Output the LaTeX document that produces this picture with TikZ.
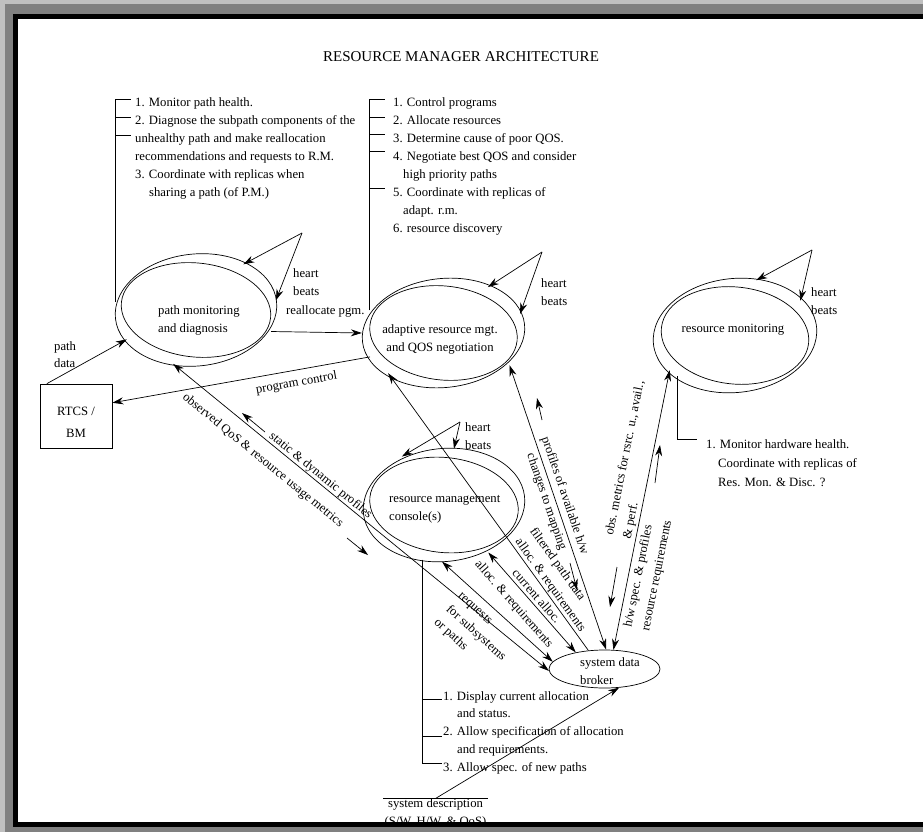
\documentclass[tikz,border=0pt]{standalone}
\usepackage{fontspec}
\setmainfont{Liberation Serif}
\usetikzlibrary{shapes.geometric,arrows.meta}
\definecolor{framelight}{RGB}{192,192,192}
\definecolor{framegray}{RGB}{128,128,128}
\begin{document}
\begin{tikzpicture}[x=1pt,y=-1pt,
  >={Stealth[length=11pt,width=7pt]},
  conn/.style={line width=0.7pt},
  txt/.style={font=\fontsize{12.7}{18}\selectfont, inner sep=0pt},
  blk/.style={txt, align=left},
  lab/.style={txt, sloped, inner xsep=0pt},
  bub/.style={ellipse, inner sep=0pt},
  ring/.style={line width=0.7pt}]
\useasboundingbox (0,0) rectangle (923,832);
% frame
\fill[framelight] (0,0) rectangle (923,832);
\fill[framegray] (5,4) rectangle (923,832);
\fill[black] (13,14) rectangle (923,827);
\fill[white] (18,19) rectangle (923,822);

% title
\node[font=\fontsize{15}{18}\selectfont, inner sep=0pt] (title) at (461,57) {RESOURCE MANAGER ARCHITECTURE};

% ellipses
\node[bub, minimum width=162, minimum height=112] (pmd) at (196,310) {};
\draw[ring, rotate around={6:(pmd.center)}] (pmd.center) ellipse [x radius=81pt, y radius=56pt];
\draw[ring, rotate around={-6:(pmd.center)}] (pmd.center) ellipse [x radius=75pt, y radius=47pt];
\node[blk, anchor=west] (pmdt) at (158,320) {path monitoring\\and diagnosis};

\node[bub, minimum width=163, minimum height=109] (arm) at (443.5,333) {};
\draw[ring, rotate around={6:(arm.center)}] (arm.center) ellipse [x radius=81.5pt, y radius=54.5pt];
\draw[ring, rotate around={-6:(arm.center)}] (arm.center) ellipse [x radius=74pt, y radius=47pt];
\node[txt, align=center] (armt) at (440,339) {adaptive resource mgt.\\and QOS negotiation};

\node[bub, minimum width=164, minimum height=114] (rm) at (735,335.5) {};
\draw[ring, rotate around={6:(rm.center)}] (rm.center) ellipse [x radius=82pt, y radius=57pt];
\draw[ring, rotate around={-6:(rm.center)}] (rm.center) ellipse [x radius=74pt, y radius=48.5pt];
\node[txt] (rmt) at (733,330) {resource monitoring};

\node[bub, minimum width=162, minimum height=113] (rmc) at (444,505) {};
\draw[ring, rotate around={6:(rmc.center)}] (rmc.center) ellipse [x radius=81pt, y radius=56.5pt];
\draw[ring, rotate around={-6:(rmc.center)}] (rmc.center) ellipse [x radius=74.5pt, y radius=47.5pt];
\node[blk, anchor=west] (rmct) at (389,509) {resource management\\console(s)};

\node[bub, draw, conn, minimum width=111, minimum height=38] (broker) at (604.5,669) {};
\node[blk, anchor=west] (brokert) at (580,671) {system data\\broker};

% RTCS box
\node[draw, conn, minimum width=72, minimum height=64, inner sep=0pt] (rtcs) at (76,416) {};
\node[txt, align=center] (rtcst) at (76,422) {RTCS /\\[4pt]BM};

% system description
\node[txt, align=center, anchor=north, inner xsep=1pt] (sysdesc) at (435.5,798.5) {system description\\(S/W, H/W, \& QoS)};
\draw[conn] (sysdesc.north west) -- (sysdesc.north east);

% text blocks
\node[blk, anchor=north west] (pmdl) at (135,97.5) {1. Monitor path health.\\2. Diagnose the subpath components of the\\unhealthy path and make reallocation\\recommendations and requests to R.M.\\3. Coordinate with replicas when\\\hspace*{14pt}sharing a path (of P.M.)};
\coordinate (pk1) at (0,99);
\coordinate (pk2) at (0,117);
\coordinate (pk3) at (0,135);
\draw[conn] (pmd.174) -- (pmd.174 |- pk1) -- ++(15,0);
\draw[conn] (pmd.174 |- pk2) -- ++(15,0);
\draw[conn] (pmd.174 |- pk3) -- ++(15,0);

\node[blk, anchor=north west] (arml) at (393,97.5) {1. Control programs\\2. Allocate resources\\3. Determine cause of poor QOS.\\4. Negotiate best QOS and consider\\\hspace*{10pt}high priority paths\\5. Coordinate with replicas of\\\hspace*{10pt}adapt. r.m.\\6. resource discovery};
\coordinate (ak1) at (0,99);
\coordinate (ak2) at (0,117);
\coordinate (ak3) at (0,134);
\coordinate (ak4) at (0,151);
\coordinate (ak5) at (0,188);
\draw[conn] (arm.163.5) -- (arm.163.5 |- ak1) -- ++(16,0);
\draw[conn] (arm.163.5 |- ak2) -- ++(16,0);
\draw[conn] (arm.163.5 |- ak3) -- ++(16,0);
\draw[conn] (arm.163.5 |- ak4) -- ++(16,0);
\draw[conn] (arm.163.5 |- ak5) -- ++(16,0);

\node[blk, font=\fontsize{12.7}{19}\selectfont, anchor=north west] (rml) at (706,439) {1. Monitor hardware health.\\\hspace*{12pt}Coordinate with replicas of\\\hspace*{12pt}Res. Mon. \& Disc. ?};
\coordinate (rk) at (697,439);
\draw[conn] (rm.215) |- (rk);

\node[blk, font=\fontsize{12.7}{17.75}\selectfont, anchor=north west] (rmcl) at (443,691) {1. Display current allocation\\\hspace*{14pt}and status.\\2. Allow specification of allocation\\\hspace*{14pt}and requirements.\\3. Allow spec. of new paths};
\coordinate (ck1) at (0,699);
\coordinate (ck2) at (0,736);
\coordinate (ck3) at (0,763);
\draw[conn] (rmc.248) -- (rmc.248 |- ck3) -- ++(20,0);
\draw[conn] (rmc.248 |- ck1) -- ++(20,0);
\draw[conn] (rmc.248 |- ck2) -- ++(20,0);

% heart beats
\coordinate (hbp) at (302,233);
\draw[conn,->] (hbp) -- (pmd.44);
\draw[conn,->] (hbp) -- (pmd.7);
\node[blk, anchor=north west] (hbpt) at (293,268) {heart\\beats};
\node[txt, anchor=west] (realt) at (286,311) {reallocate pgm.};

\coordinate (hba) at (542,252);
\draw[conn,->] (hba) -- (arm.46.6);
\draw[conn,->] (hba) -- (arm.14);
\node[blk, anchor=north west] (hbat) at (541,278) {heart\\beats};

\coordinate (hbr) at (812,250);
\draw[conn,->] (hbr) -- (rm.69.6);
\draw[conn,->] (hbr) -- (rm.28);
\node[blk, anchor=north west] (hbrt) at (811,287) {heart\\beats};

\coordinate (hbc) at (460,422);
\draw[conn,->] (hbc) -- (rmc.131.8);
\draw[conn,->] (hbc) -- (rmc.80.9);
\node[blk, anchor=north west] (hbct) at (465,422) {heart\\beats};

% main connectors
\draw[conn,->] (rtcs.132) -- (pmd.203);
\node[blk, font=\fontsize{12.7}{17}\selectfont, anchor=north west] (pdt) at (54,341) {path\\data};
\draw[conn,->] (pmd.-16) -- (arm.west);
\draw[conn,->] (arm.198) -- node[lab, below, pos=0.294, inner ysep=7pt] (pct) {program control} (rtcs.20);

\draw[conn,<->] (pmd.247) --
  node[lab, above, pos=0.381, inner ysep=0.5pt] (sdpt) {static \& dynamic profiles}
  node[lab, below, pos=0.269, inner ysep=12pt] (oqt) {observed QoS \& resource usage metrics}
  (broker.182);
\coordinate (sa1) at (265,432); \coordinate (sa2) at (242,413);
\draw[conn,->] (sa1) -- (sa2);
\coordinate (oa1) at (347,538); \coordinate (oa2) at (368,555);
\draw[conn,->] (oa1) -- (oa2);

\draw[conn,->] (broker.131) --
  node[lab, above, pos=0.22, inner ysep=1pt, align=left] (fpt) {filtered path data\\alloc. \& requirements}
  (arm.216.5);

\draw[conn,<->] (arm.-26) --
  node[lab, above, pos=0.47, inner ysep=4pt] (pavt) {profiles of available h/w}
  node[lab, below, pos=0.47, inner ysep=3pt] (chgt) {changes to mapping}
  (broker.85);
\coordinate (pa1) at (542,420); \coordinate (pa2) at (537,398);
\draw[conn,->] (pa1) -- (pa2);
\coordinate (ca1) at (570,563); \coordinate (ca2) at (577,590);
\draw[conn,->] (ca1) -- (ca2);

\draw[conn,<->] (broker.65) --
  node[lab, above, pos=0.667, inner ysep=2pt, align=left] (obst) {obs. metrics for rsrc. u., avail.,\\\& perf.}
  node[lab, below, pos=0.285, inner ysep=4pt, align=left] (hwst) {h/w spec. \& profiles\\resource requirements}
  (rm.208.4);
\coordinate (ma1) at (617,567); \coordinate (ma2) at (610,607);
\draw[conn,->] (ma1) -- (ma2);
\coordinate (ha1) at (655,483); \coordinate (ha2) at (660,445);
\draw[conn,->] (ha1) -- (ha2);

\draw[conn,<->] (rmc.-47.6) --
  node[lab, above, pos=0.488, inner ysep=3pt] (cat) {current alloc.}
  node[lab, below, pos=0.42, inner ysep=9pt] (art) {alloc. \& requirements}
  (broker.150);

\draw[conn,<->] (rmc.268) --
  node[lab, below, pos=0.49, inner ysep=8pt, align=left] (rqt) {requests\\for subsystems\\or paths}
  (broker.172);

\draw[conn,->] (sysdesc.north) -- (broker.-52);

% bottom frame over text
\fill[black] (13,822) rectangle (923,827);
\fill[framegray] (5,827) rectangle (923,832);
\end{tikzpicture}
\end{document}
